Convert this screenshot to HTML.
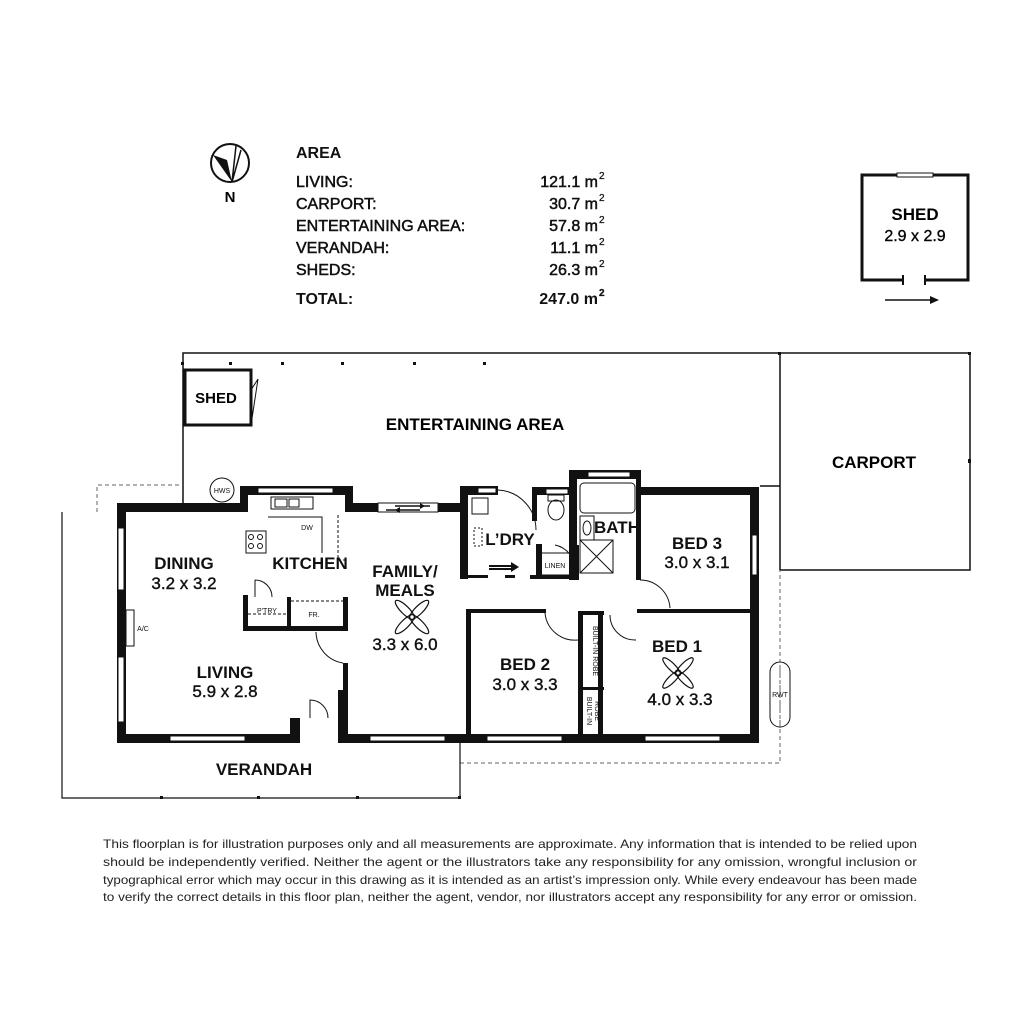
<!DOCTYPE html>
<html><head><meta charset="utf-8"><style>
html,body{margin:0;padding:0;background:#fff;}
svg{display:block;font-family:"Liberation Sans",sans-serif;}
</style></head><body>
<svg width="1024" height="1024" viewBox="0 0 1024 1024" xmlns="http://www.w3.org/2000/svg">
<rect width="1024" height="1024" fill="#fff"/>
<!-- compass -->
<circle cx="230" cy="163" r="19" fill="none" stroke="#111" stroke-width="2"/>
<path d="M213 155 L232 182 L227 160 Z" fill="#111"/>
<path d="M232 182 L236 146 M232 182 L241 150" stroke="#111" stroke-width="1.5" fill="none"/>
<text x="230" y="202" font-size="15" font-weight="bold" text-anchor="middle">N</text>
<!-- area table -->
<g font-size="16" fill="#111" stroke="#111" stroke-width="0.5">
<text x="296" y="158" font-weight="bold" stroke-width="0">AREA</text>
<text x="296" y="187">LIVING:</text><text x="598" y="187" text-anchor="end">121.1 m</text>
<text x="296" y="209">CARPORT:</text><text x="598" y="209" text-anchor="end">30.7 m</text>
<text x="296" y="231">ENTERTAINING AREA:</text><text x="598" y="231" text-anchor="end">57.8 m</text>
<text x="296" y="253">VERANDAH:</text><text x="598" y="253" text-anchor="end">11.1 m</text>
<text x="296" y="275">SHEDS:</text><text x="598" y="275" text-anchor="end">26.3 m</text>
<text x="296" y="304" font-weight="bold" stroke-width="0">TOTAL:</text><text x="598" y="304" text-anchor="end" font-weight="bold" stroke-width="0">247.0 m</text>
<g font-size="10" stroke-width="0.3"><text x="599" y="179">2</text><text x="599" y="201">2</text><text x="599" y="223">2</text><text x="599" y="245">2</text><text x="599" y="267">2</text><text x="599" y="296" font-weight="bold">2</text></g>
</g>
<!-- separate shed -->
<g stroke="#111" stroke-width="3" fill="none">
<path d="M903 280 H862 V175 H968 V280 H925"/>
<path d="M903 275 V285 M925 275 V285" stroke-width="2"/>
</g>
<rect x="897" y="173" width="36" height="4" fill="#fff" stroke="#111" stroke-width="1"/>
<text x="915" y="220" font-size="17" font-weight="bold" text-anchor="middle">SHED</text>
<text x="915" y="241" font-size="16" text-anchor="middle" stroke="#111" stroke-width="0.4">2.9 x 2.9</text>
<path d="M885 300 H932" stroke="#111" stroke-width="1.5"/><path d="M930 296 L939 300 L930 304 Z" fill="#111"/>

<!-- entertaining area & carport outlines -->
<g stroke="#111" stroke-width="1.5" fill="none">
<path d="M183 505 V353 H970 V570 H780 V353"/>
<path d="M780 486 H760"/>
</g>
<g fill="#111">
<rect x="181" y="362" width="3" height="3"/><rect x="229" y="362" width="3" height="3"/><rect x="281" y="362" width="3" height="3"/><rect x="341" y="362" width="3" height="3"/><rect x="413" y="362" width="3" height="3"/><rect x="483" y="362" width="3" height="3"/><rect x="778" y="352" width="3" height="3"/><rect x="968" y="352" width="3" height="3"/><rect x="968" y="459" width="3" height="4"/>
</g>
<!-- small shed -->
<rect x="185" y="370" width="66" height="55" fill="none" stroke="#111" stroke-width="3"/>
<path d="M251 390 L258 379 M251 425 L258 379" stroke="#111" stroke-width="1"/>
<text x="216" y="403" font-size="15" font-weight="bold" text-anchor="middle">SHED</text>
<text x="475" y="430" font-size="17" font-weight="bold" text-anchor="middle">ENTERTAINING AREA</text>
<text x="874" y="468" font-size="17" font-weight="bold" text-anchor="middle">CARPORT</text>

<!-- dashed verandah lines -->
<g stroke="#666" stroke-width="1" fill="none" stroke-dasharray="4,3">
<path d="M97 512 V485 H183"/>
<path d="M460 763 H780 V570"/>
</g>
<g stroke="#111" stroke-width="1.2" fill="none">
<path d="M62 512 V798 H460 V742"/>
</g>
<g fill="#111"><rect x="160" y="796" width="3" height="3"/><rect x="257" y="796" width="3" height="3"/><rect x="356" y="796" width="3" height="3"/><rect x="458" y="796" width="3" height="3"/></g>

<!-- thick walls -->
<g fill="#111">
<rect x="117" y="503" width="9" height="239"/>
<rect x="117" y="503" width="128" height="9"/>
<rect x="240" y="486" width="113" height="9"/>
<rect x="240" y="486" width="8" height="26"/>
<rect x="345" y="486" width="8" height="26"/>
<rect x="345" y="503" width="122" height="9"/>
<rect x="460" y="486" width="38" height="9"/>
<rect x="460" y="486" width="8" height="93"/>
<rect x="532" y="487" width="40" height="8"/>
<rect x="532" y="487" width="5" height="34"/>
<rect x="569" y="470" width="72" height="9"/>
<rect x="569" y="470" width="8" height="110"/>
<rect x="636" y="470" width="5" height="110"/>
<rect x="636" y="487" width="122" height="8"/>
<rect x="750" y="487" width="9" height="255"/>
<rect x="117" y="734" width="183" height="9"/>
<rect x="290" y="718" width="10" height="25"/>
<rect x="338" y="690" width="8" height="53"/>
<rect x="338" y="734" width="421" height="9"/>
<rect x="243" y="595" width="5" height="36"/>
<rect x="243" y="626" width="105" height="5"/>
<rect x="287" y="597" width="4" height="33"/>
<rect x="343" y="597" width="5" height="34"/>
<rect x="343" y="663" width="5" height="72"/>
<rect x="466" y="609" width="5" height="126"/>
<rect x="466" y="609" width="80" height="4"/>
<rect x="578" y="611" width="5" height="124"/>
<rect x="578" y="611" width="26" height="4"/>
<rect x="598" y="611" width="5" height="124"/>
<rect x="578" y="687" width="26" height="3"/>
<rect x="637" y="609" width="121" height="4"/>
<rect x="536" y="544" width="6" height="35"/>
<rect x="536" y="575" width="40" height="4"/>
<rect x="530" y="575" width="10" height="4"/>
<rect x="505" y="575" width="10" height="3"/>
<rect x="575" y="545" width="4" height="35"/>
<rect x="466" y="575" width="22" height="3"/>
</g>
<!-- windows -->
<g fill="#fff" stroke="#111" stroke-width="1">
<rect x="118" y="528" width="6" height="62"/>
<rect x="118" y="657" width="6" height="65"/>
<rect x="170" y="736" width="75" height="5"/>
<rect x="258" y="488" width="75" height="5"/>
<rect x="370" y="736" width="75" height="5"/>
<rect x="487" y="736" width="75" height="5"/>
<rect x="645" y="736" width="75" height="5"/>
<rect x="752" y="535" width="5" height="40"/>
<rect x="588" y="472" width="42" height="5"/>
<rect x="478" y="488" width="18" height="5"/>
<rect x="546" y="489" width="22" height="5"/>
<rect x="378" y="503" width="60" height="9"/>
</g>
<path d="M395 506 H430 M386 510 H420" stroke="#111" stroke-width="1.5"/>
<path d="M420 503 L425 506 L420 509 Z M400 507 L395 510 L400 513 Z" fill="#111"/>
<!-- door arcs -->
<g stroke="#111" stroke-width="1" fill="none">
<path d="M255 580 V597 M255 580 A17 17 0 0 1 272 597"/>
<path d="M316 632 A32 32 0 0 0 343 663"/>
<path d="M310 718 V700 A18 18 0 0 1 328 718"/>
<path d="M498 490 A40 40 0 0 1 536 530"/>
<path d="M555 545 A25 25 0 0 1 575 570"/>
<path d="M640 580 A30 30 0 0 1 670 608"/>
<path d="M545 613 A30 30 0 0 0 578 640"/>
<path d="M610 615 A25 25 0 0 0 636 640"/>
</g>
<!-- fixtures -->
<g stroke="#111" stroke-width="1" fill="none">
<circle cx="222" cy="490" r="12" fill="#fff"/>
<rect x="271" y="497" width="42" height="12"/>
<rect x="275" y="499" width="12" height="8"/><rect x="289" y="499" width="10" height="8"/>
<path d="M268 517 H322 V553"/>
<rect x="246" y="531" width="20" height="22"/>
<circle cx="251" cy="537" r="2.5"/><circle cx="260" cy="537" r="2.5"/><circle cx="251" cy="546" r="2.5"/><circle cx="260" cy="546" r="2.5"/>
<path d="M338 515 V560 H345" stroke-dasharray="3,2"/>
<path d="M248 614 H287 M291 601 H343" stroke-dasharray="3,2"/>
<rect x="472" y="498" width="16" height="16"/>
<rect x="474" y="528" width="8" height="18" stroke-dasharray="2,2"/>
<ellipse cx="556" cy="510" rx="8" ry="10"/>
<rect x="548" y="495" width="16" height="6"/>
<rect x="580" y="483" width="55" height="30" rx="4"/>
<rect x="580" y="516" width="14" height="24"/>
<ellipse cx="587" cy="528" rx="4" ry="7"/>
<rect x="580" y="540" width="33" height="33"/><path d="M580 540 L613 573 M613 540 L580 573"/>
<rect x="540" y="553" width="30" height="22"/>
<rect x="770" y="662" width="20" height="65" rx="10"/>
<path d="M780 660 V735" stroke-dasharray="3,2" stroke="#666"/>
<rect x="126" y="610" width="8" height="36"/>
</g>
<path d="M489 566 H513 M489 569 H513" stroke="#111" stroke-width="2"/>
<path d="M511 562 L519 567 L511 572 Z" fill="#111"/>
<!-- fans -->
<g stroke="#111" stroke-width="1.2" fill="none">
<g transform="translate(412,617)"><ellipse rx="13" ry="4" transform="rotate(45) translate(-10,0)"/><ellipse rx="13" ry="4" transform="rotate(45) translate(10,0)"/><ellipse rx="13" ry="4" transform="rotate(-45) translate(-10,0)"/><ellipse rx="13" ry="4" transform="rotate(-45) translate(10,0)"/></g>
<g transform="translate(678,673)"><ellipse rx="12" ry="3.5" transform="rotate(45) translate(-9,0)"/><ellipse rx="12" ry="3.5" transform="rotate(45) translate(9,0)"/><ellipse rx="12" ry="3.5" transform="rotate(-45) translate(-9,0)"/><ellipse rx="12" ry="3.5" transform="rotate(-45) translate(9,0)"/></g>
</g>
<!-- small labels -->
<g font-size="7" fill="#111" text-anchor="middle">
<text x="222" y="493">HWS</text>
<text x="307" y="530">DW</text>
<text x="267" y="613">P'TRY</text>
<text x="314" y="617">FR.</text>
<text x="555" y="568">LINEN</text>
<text x="780" y="697">RWT</text>
<text x="143" y="631">A/C</text>
<text transform="translate(593,651) rotate(90)">BUILT-IN ROBE</text>
<text transform="translate(587,711) rotate(90)">BUILT-IN</text>
<text transform="translate(595,711) rotate(90)">ROBE</text>
</g>
<!-- room labels -->
<g font-size="17" fill="#111" text-anchor="middle">
<text x="184" y="569" font-weight="bold">DINING</text><text x="184" y="589" stroke="#111" stroke-width="0.4">3.2 x 3.2</text>
<text x="310" y="569" font-weight="bold">KITCHEN</text>
<text x="405" y="577" font-weight="bold">FAMILY/</text><text x="405" y="596" font-weight="bold">MEALS</text><text x="405" y="650" stroke="#111" stroke-width="0.4">3.3 x 6.0</text>
<text x="225" y="678" font-weight="bold">LIVING</text><text x="225" y="697" stroke="#111" stroke-width="0.4">5.9 x 2.8</text>
<text x="264" y="775" font-weight="bold">VERANDAH</text>
<text x="510" y="545" font-weight="bold">L’DRY</text>
<text x="617" y="533" font-weight="bold">BATH</text>
<text x="697" y="549" font-weight="bold">BED 3</text><text x="697" y="568" stroke="#111" stroke-width="0.4">3.0 x 3.1</text>
<text x="525" y="670" font-weight="bold">BED 2</text><text x="525" y="690" stroke="#111" stroke-width="0.4">3.0 x 3.3</text>
<text x="677" y="652" font-weight="bold">BED 1</text><text x="680" y="705" stroke="#111" stroke-width="0.4">4.0 x 3.3</text>
</g>
<!-- disclaimer -->
<g font-size="12" fill="#222">
<text x="103" y="848" textLength="814" lengthAdjust="spacingAndGlyphs">This floorplan is for illustration purposes only and all measurements are approximate. Any information that is intended to be relied upon</text>
<text x="103" y="866" textLength="814" lengthAdjust="spacingAndGlyphs">should be independently verified. Neither the agent or the illustrators take any responsibility for any omission, wrongful inclusion or</text>
<text x="103" y="884" textLength="814" lengthAdjust="spacingAndGlyphs">typographical error which may occur in this drawing as it is intended as an artist’s impression only. While every endeavour has been made</text>
<text x="103" y="901" textLength="814" lengthAdjust="spacingAndGlyphs">to verify the correct details in this floor plan, neither the agent, vendor, nor illustrators accept any responsibility for any error or omission.</text>
</g>
</svg>
</body></html>
